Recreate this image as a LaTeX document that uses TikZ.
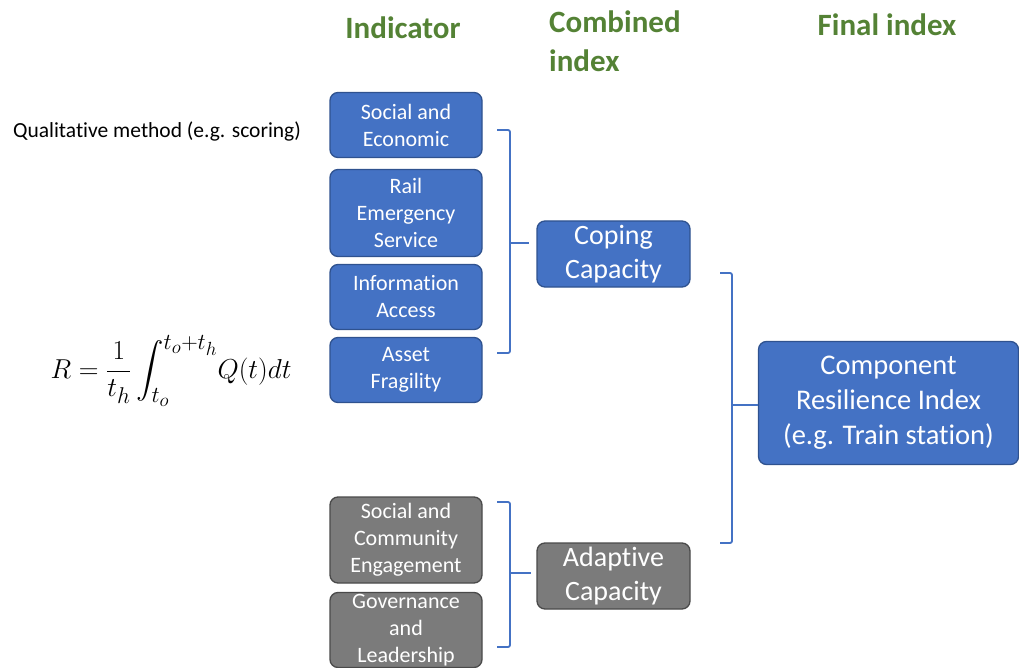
\documentclass[tikz,border=0pt]{standalone}
\usepackage{amsmath}
\usepackage{fontspec}
\setmainfont{Carlito}[Ligatures=NoCommon]
\usetikzlibrary{calc}
\definecolor{boxblue}{HTML}{4472C4}
\definecolor{blueedge}{HTML}{2F528F}
\definecolor{boxgray}{HTML}{7B7B7B}
\definecolor{grayedge}{HTML}{4A4A4A}
\definecolor{headgreen}{HTML}{548235}
\tikzset{
  x=1pt, y=-1pt,
  ind/.style={draw=blueedge, fill=boxblue, line width=1.3pt, rounded corners=8pt, text=white,
    align=center, inner sep=0pt, minimum width=152pt, font=\fontsize{22}{27}\selectfont},
  indgray/.style={ind, draw=grayedge, fill=boxgray},
  comb/.style={ind, minimum width=153pt, minimum height=66pt, font=\fontsize{28}{34}\selectfont},
  head/.style={text=headgreen, font=\bfseries\fontsize{31}{39}\selectfont, inner sep=0pt},
  brace/.style={draw=boxblue, line width=1.8pt, rounded corners=2pt},
}
\begin{document}
\begin{tikzpicture}
\useasboundingbox (0,0) rectangle (1019,668);
% headers
\node[head] (h1) at (403,28) {Indicator};
\node[head, align=left, anchor=north west] (h2) at (549,11) {Combined\\index};
\node[head] (h3) at (887,25) {Final index};
% left texts
\node[font=\fontsize{21.5}{24}\selectfont, inner sep=0pt] (qm) at (157,131) {Qualitative method (e.g. scoring)};
\node[inner sep=0pt, scale=1.1, font=\fontsize{24.88}{30}\selectfont] (eq) at (171,371) {$\displaystyle R=\frac{1}{t_h}\int_{t_o}^{t_o+t_h}\!Q(t)dt$};
% indicators
\node[ind, minimum height=65pt] (se) at (406,125) {Social and\\Economic};
\node[ind, minimum height=87pt] (res) at (406,213) {Rail\\Emergency\\Service};
\node[ind, minimum height=65pt] (ia) at (406,297) {Information\\Access};
\node[ind, minimum height=65pt] (af) at (406,370) {Asset\\Fragility};
\node[indgray, minimum height=86pt] (sce) at (406,540) {Social and\\Community\\Engagement};
\node[indgray, minimum height=75pt] (gl) at (406,630) {Governance\\and\\Leadership};
% combined
\node[comb] (cc) at (613.5,254) {Coping\\Capacity};
\node[comb, draw=grayedge, fill=boxgray] (ac) at (613.5,576) {Adaptive\\Capacity};
% final
\node[ind, minimum width=260pt, minimum height=123pt, font=\fontsize{28.5}{35}\selectfont] (cri) at (888.5,403) {Component\\Resilience Index\\(e.g. Train station)};
% braces
\coordinate (b1t) at (497,130);
\coordinate (b1b) at (497,353);
\coordinate (b1m) at (510,243);
\coordinate (b1e) at ($(cc.west)+(-7,-10)$);
\draw[brace] (b1t) -- (510,130) -- (510,353) -- (b1b);
\draw[brace] (b1m) -- (b1m -| b1e);
\coordinate (b2t) at (497,502);
\coordinate (b2b) at (497,647);
\coordinate (b2m) at (510,573);
\coordinate (b2e) at ($(ac.west)+(-5,0)$);
\draw[brace] (b2t) -- (510,502) -- (510,647) -- (b2b);
\draw[brace] (b2m) -- (b2m -| b2e);
\coordinate (b3t) at (720,273);
\coordinate (b3b) at (720,543);
\coordinate (b3m) at (732,405);
\draw[brace] (b3t) -- (732,273) -- (732,543) -- (b3b);
\draw[brace] (b3m) -- (b3m -| cri.west);
\end{tikzpicture}
\end{document}
